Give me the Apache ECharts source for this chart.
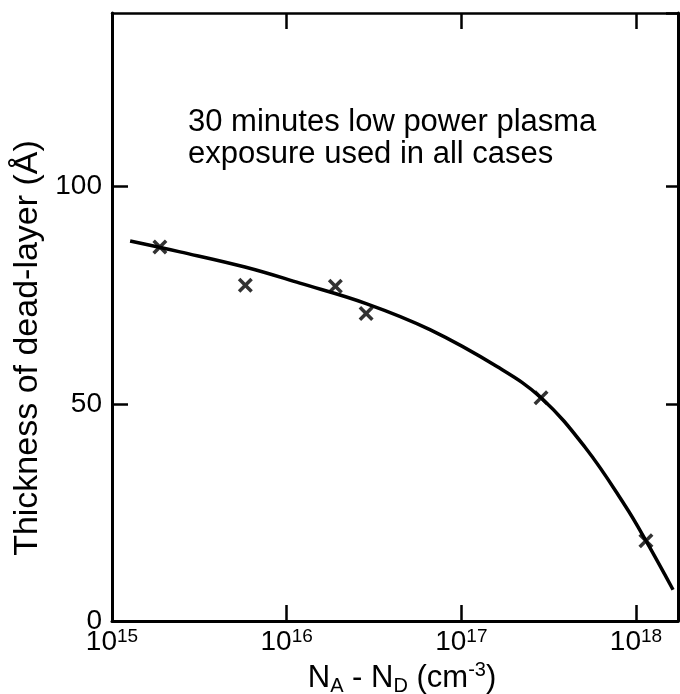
<!DOCTYPE html>
<html>
<head>
<meta charset="utf-8">
<script src="https://cdn.jsdelivr.net/npm/echarts@6/dist/echarts.min.js"></script>
<style>
  html, body { margin: 0; padding: 0; background: #fff; }
  #chart { width: 680px; height: 694px; }
</style>
</head>
<body>
<div id="chart"></div>
<script>
// measured points: N_A - N_D (cm^-3) vs dead-layer thickness (A)
var pointDoping = [1.88e15, 5.8e15, 1.9e16, 2.85e16, 2.86e17, 1.14e18];
var pointThickness = [86.1, 77.3, 77.1, 70.8, 51.4, 18.5];

// hand drawn trend curve
var curveDoping = [1.27e15, 2.45e15, 5.77e15, 1.19e16, 2.85e16, 6.61e16,
  1.6e17, 2.86e17, 5.11e17, 8.65e17, 1.14e18, 1.63e18];
var curveThickness = [87.5, 85.0, 81.5, 77.8, 73.1, 67.1,
  58.6, 51.4, 40.0, 26.6, 18.5, 7.2];

var yTicks = [0, 50, 100];
var note = ['30 minutes low power plasma', 'exposure used in all cases'];

var FONT = '"Liberation Sans", Arial, Helvetica, sans-serif';
var INK = '#000';

// X shaped marker (filled path)
var CROSS = 'path://M0,2 L2,0 L6,4 L10,0 L12,2 L8,6 L12,10 L10,12 L6,8 L2,12 L0,10 L4,6 Z';

var chart = echarts.init(document.getElementById('chart'));

function decadeLabel(v) {
  var e = Math.log10(v);
  var r = Math.round(e);
  if (Math.abs(e - r) > 1e-6) return '';
  return '{b|10}{s|' + r + '}';
}

var frameLine = { show: true, onZero: false, lineStyle: { color: INK, width: 3 } };

chart.setOption({
  animation: false,
  backgroundColor: '#fff',
  grid: { left: 112, right: 2, top: 13, bottom: 73, outerBoundsMode: 'none' },
  graphic: [{
    type: 'text',
    left: 188,
    top: 106,
    style: {
      text: note.join('\n'),
      font: '31px ' + FONT,
      lineHeight: 32,
      fill: INK
    }
  }],
  xAxis: [{
    type: 'log',
    logBase: 10,
    min: 1e15,
    max: 1.74e18,
    position: 'bottom',
    axisLine: frameLine,
    axisTick: { inside: true, length: 16, lineStyle: { color: INK, width: 2.5 } },
    splitLine: { show: false },
    axisLabel: {
      margin: 6,
      color: INK,
      formatter: decadeLabel,
      showMaxLabel: false,
      rich: {
        b: { fontSize: 28, fontFamily: FONT, color: INK, lineHeight: 30 },
        s: { fontSize: 19, fontFamily: FONT, color: INK, lineHeight: 19, verticalAlign: 'top' }
      }
    },
    name: '{n|N}{sub|A}{n| - N}{sub|D}{n| (cm}{sup|-3}{n|)}',
    nameLocation: 'middle',
    nameGap: 36,
    nameTextStyle: {
      padding: [0, 0, 0, 14],
      rich: {
        n: { fontSize: 31, fontFamily: FONT, color: INK, lineHeight: 36 },
        sub: { fontSize: 20, fontFamily: FONT, color: INK, lineHeight: 20, verticalAlign: 'bottom' },
        sup: { fontSize: 20, fontFamily: FONT, color: INK, lineHeight: 20, verticalAlign: 'top' }
      }
    }
  }, {
    type: 'log',
    logBase: 10,
    min: 1e15,
    max: 1.74e18,
    position: 'top',
    axisLine: { show: true, onZero: false, lineStyle: { color: INK, width: 2.5 } },
    axisTick: { inside: true, length: 16, lineStyle: { color: INK, width: 2.5 } },
    axisLabel: { show: false },
    splitLine: { show: false }
  }],
  yAxis: [{
    type: 'value',
    min: 0,
    max: 140,
    interval: 50,
    position: 'left',
    axisLine: frameLine,
    axisTick: { show: true, inside: true, length: 16, lineStyle: { color: INK, width: 2.5 } },
    splitLine: { show: false },
    axisLabel: {
      margin: 10,
      color: INK,
      fontSize: 28,
      fontFamily: FONT,
      showMaxLabel: false,
      formatter: function (v) { return yTicks.indexOf(v) >= 0 ? String(v) : ''; }
    },
    name: 'Thickness of dead-layer (\u00c5)',
    nameLocation: 'middle',
    nameGap: 66,
    nameTextStyle: {
      color: INK,
      fontSize: 34,
      fontFamily: FONT,
      padding: [0, 62, 0, 0]
    }
  }, {
    type: 'value',
    min: 0,
    max: 140,
    interval: 50,
    position: 'right',
    axisLine: frameLine,
    axisTick: { show: true, inside: true, length: 12, lineStyle: { color: INK, width: 2.5 } },
    axisLabel: { show: false },
    splitLine: { show: false }
  }],
  series: [{
    name: 'trend',
    type: 'line',
    xAxisIndex: 0,
    yAxisIndex: 0,
    smooth: 0.4,
    showSymbol: false,
    lineStyle: { color: INK, width: 3.5 },
    data: curveDoping.map(function (x, i) { return [x, curveThickness[i]]; }),
    z: 2
  }, {
    name: 'measured',
    type: 'scatter',
    xAxisIndex: 0,
    yAxisIndex: 0,
    symbol: CROSS,
    symbolSize: 15,
    itemStyle: { color: INK },
    data: pointDoping.map(function (x, i) { return [x, pointThickness[i]]; }),
    z: 3
  }]
});
</script>
</body>
</html>
